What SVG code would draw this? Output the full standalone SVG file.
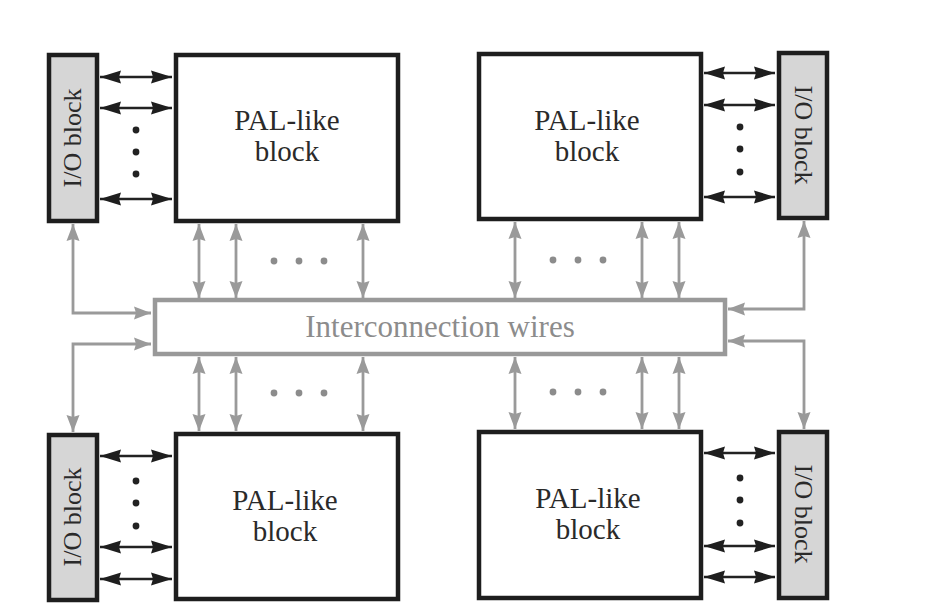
<svg xmlns="http://www.w3.org/2000/svg" width="948" height="608" viewBox="0 0 948 608">
<style>
.pal{fill:#ffffff;stroke:#1e1e1e;stroke-width:4.5}
.io{fill:#d6d6d6;stroke:#1e1e1e;stroke-width:4.5}
.ic{fill:#ffffff;stroke:#999999;stroke-width:4.5}
.t{font-family:"Liberation Serif","Times New Roman",serif;fill:#2a2a2a;text-anchor:middle}
.pt{font-size:29px}
.iot{font-size:26px}
.ict{font-size:31px;fill:#8c8c8c}
.ba{stroke:#222;stroke-width:2.4;fill:none;marker-start:url(#hb);marker-end:url(#hb)}
.ga{stroke:#9a9a9a;stroke-width:2.8;fill:none;marker-start:url(#hg);marker-end:url(#hg)}
.dot{fill:#222}
.gdot{fill:#8c8c8c}
</style>
<defs>
<marker id="hb" markerUnits="userSpaceOnUse" markerWidth="22" markerHeight="13" refX="21" refY="6.5" orient="auto-start-reverse" overflow="visible">
<path d="M0,0 L21,6.5 L0,13 L2,6.5 Z" fill="#1e1e1e"/>
</marker>
<marker id="hg" markerUnits="userSpaceOnUse" markerWidth="18" markerHeight="13" refX="17" refY="6.5" orient="auto-start-reverse" overflow="visible">
<path d="M0,0 L17,6.5 L0,13 L2,6.5 Z" fill="#9a9a9a"/>
</marker>
</defs>
<rect width="948" height="608" fill="#ffffff"/>

<g id="connectors">
<line class="ba" x1="100" y1="77" x2="172" y2="77"/>
<line class="ba" x1="100" y1="108" x2="172" y2="108"/>
<line class="ba" x1="100" y1="199" x2="172" y2="199"/>
<line class="ba" x1="704" y1="73" x2="775" y2="73"/>
<line class="ba" x1="704" y1="105" x2="775" y2="105"/>
<line class="ba" x1="704" y1="197" x2="775" y2="197"/>
<line class="ba" x1="100" y1="456" x2="172" y2="456"/>
<line class="ba" x1="100" y1="547" x2="172" y2="547"/>
<line class="ba" x1="100" y1="579" x2="172" y2="579"/>
<line class="ba" x1="704" y1="453" x2="775" y2="453"/>
<line class="ba" x1="704" y1="546" x2="775" y2="546"/>
<line class="ba" x1="704" y1="577" x2="775" y2="577"/>
<line class="ga" x1="199" y1="224" x2="199" y2="298"/>
<line class="ga" x1="236" y1="224" x2="236" y2="298"/>
<line class="ga" x1="363" y1="224" x2="363" y2="298"/>
<line class="ga" x1="515" y1="222" x2="515" y2="298"/>
<line class="ga" x1="642" y1="222" x2="642" y2="298"/>
<line class="ga" x1="679" y1="222" x2="679" y2="298"/>
<line class="ga" x1="199" y1="357" x2="199" y2="431"/>
<line class="ga" x1="236" y1="357" x2="236" y2="431"/>
<line class="ga" x1="363" y1="357" x2="363" y2="431"/>
<line class="ga" x1="515" y1="357" x2="515" y2="429"/>
<line class="ga" x1="642" y1="357" x2="642" y2="429"/>
<line class="ga" x1="679" y1="357" x2="679" y2="429"/>
<path class="ga" d="M73,224 V313 H151"/>
<path class="ga" d="M151,344 H73 V432"/>
<path class="ga" d="M728,309 H804 V221"/>
<path class="ga" d="M728,341 H804 V429"/>
<circle class="dot" cx="136" cy="130" r="3.4"/>
<circle class="dot" cx="136" cy="152" r="3.4"/>
<circle class="dot" cx="136" cy="174" r="3.4"/>
<circle class="dot" cx="740" cy="127" r="3.4"/>
<circle class="dot" cx="740" cy="149" r="3.4"/>
<circle class="dot" cx="740" cy="172" r="3.4"/>
<circle class="dot" cx="136" cy="481" r="3.4"/>
<circle class="dot" cx="136" cy="503" r="3.4"/>
<circle class="dot" cx="136" cy="526" r="3.4"/>
<circle class="dot" cx="740" cy="478" r="3.4"/>
<circle class="dot" cx="740" cy="500" r="3.4"/>
<circle class="dot" cx="740" cy="523" r="3.4"/>
<circle class="gdot" cx="274" cy="261" r="3.4"/>
<circle class="gdot" cx="299" cy="261" r="3.4"/>
<circle class="gdot" cx="324" cy="261" r="3.4"/>
<circle class="gdot" cx="553" cy="260" r="3.4"/>
<circle class="gdot" cx="578" cy="260" r="3.4"/>
<circle class="gdot" cx="603" cy="260" r="3.4"/>
<circle class="gdot" cx="274" cy="393" r="3.4"/>
<circle class="gdot" cx="299" cy="393" r="3.4"/>
<circle class="gdot" cx="324" cy="393" r="3.4"/>
<circle class="gdot" cx="553" cy="392" r="3.4"/>
<circle class="gdot" cx="578" cy="392" r="3.4"/>
<circle class="gdot" cx="603" cy="392" r="3.4"/>
</g>

<g id="pal-tl">
<rect class="pal" x="176" y="55" width="222" height="166"/>
<text class="t pt" x="287" y="130">PAL-like</text>
<text class="t pt" x="287" y="161">block</text>
</g>
<g id="pal-tr">
<rect class="pal" x="479" y="54" width="222" height="165"/>
<text class="t pt" x="587" y="130">PAL-like</text>
<text class="t pt" x="587" y="161">block</text>
</g>
<g id="pal-bl">
<rect class="pal" x="176" y="434" width="222" height="165"/>
<text class="t pt" x="285" y="510">PAL-like</text>
<text class="t pt" x="285" y="541">block</text>
</g>
<g id="pal-br">
<rect class="pal" x="479" y="432" width="222" height="166"/>
<text class="t pt" x="588" y="508">PAL-like</text>
<text class="t pt" x="588" y="539">block</text>
</g>

<g id="io-tl">
<rect class="io" x="49" y="55" width="48" height="166"/>
<text class="t iot" transform="translate(73,138) rotate(-90)" x="0" y="8">I/O block</text>
</g>
<g id="io-tr">
<rect class="io" x="779" y="53" width="48" height="165"/>
<text class="t iot" transform="translate(803,135) rotate(90)" x="0" y="8">I/O block</text>
</g>
<g id="io-bl">
<rect class="io" x="49" y="435" width="48" height="165"/>
<text class="t iot" transform="translate(73,517) rotate(-90)" x="0" y="8">I/O block</text>
</g>
<g id="io-br">
<rect class="io" x="779" y="432" width="48" height="166"/>
<text class="t iot" transform="translate(803,514) rotate(90)" x="0" y="8">I/O block</text>
</g>

<g id="interconnect">
<rect class="ic" x="155" y="300" width="570" height="54"/>
<text class="t ict" x="440" y="337">Interconnection wires</text>
</g>
</svg>
